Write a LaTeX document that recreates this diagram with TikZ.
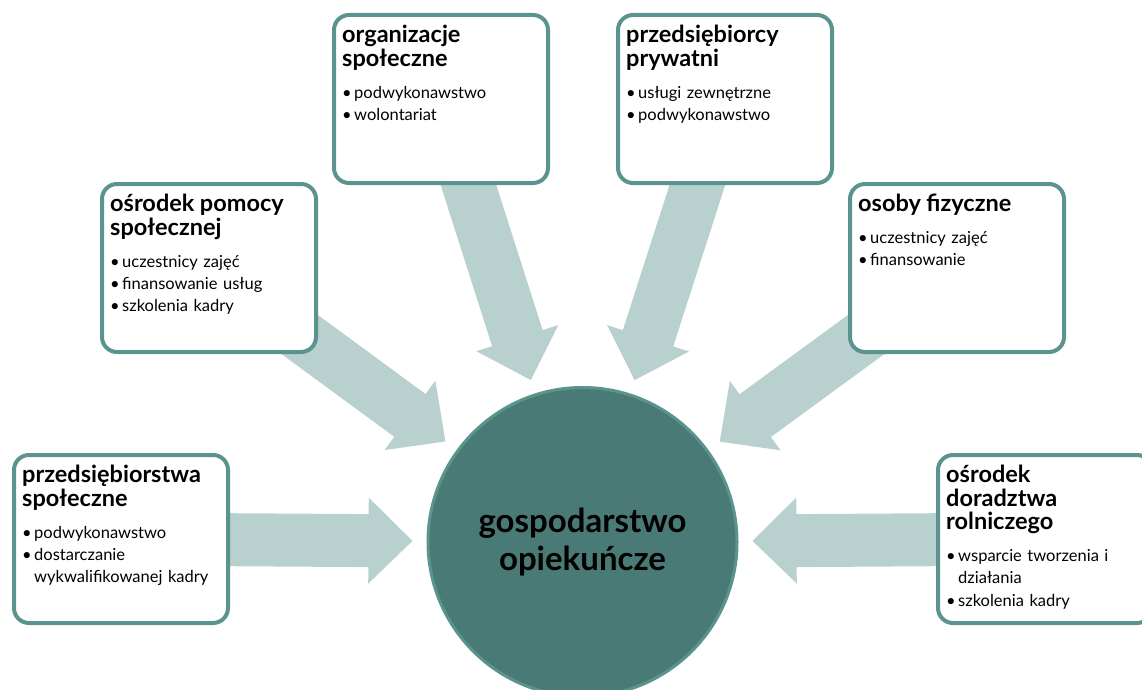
\documentclass[tikz,border=0pt]{standalone}
\usepackage{fontspec}
\setmainfont{Lato}
\usetikzlibrary{calc,backgrounds}
\definecolor{ramka}{HTML}{5B948E}
\definecolor{strzalka}{HTML}{B8D0CE}
\definecolor{srodek}{HTML}{4A7A76}
\newcommand\tytul{\fontsize{23.5}{23.5}\selectfont\bfseries}
\newcommand\pkt[1]{\par\noindent\makebox[12pt][l]{\textbullet}\parbox[t]{184pt}{\raggedright#1\strut}}
\newcommand\bigarrow[2]{\fill[strzalka] let \p1=($(#2)-(#1.center)$),\n1={atan2(\y1,\x1)},\n2={veclen(\x1,\y1)} in
	[shift={(#1.center)},rotate=\n1] (0pt,-26.5pt)--(\n2-44pt,-26.5pt)--(\n2-44pt,-43pt)--(\n2,0pt)
	--(\n2-44pt,43pt)--(\n2-44pt,26.5pt)--(0pt,26.5pt)--cycle;}
\tikzset{
	karta/.style={draw=ramka,line width=4pt,fill=white,rounded corners=15pt,minimum width=214pt,minimum height=168pt},
	opis/.style={anchor=north west,inner sep=0pt,text width=198pt,align=left,font=\fontsize{16.5}{22}\selectfont},
}
\begin{document}
\begin{tikzpicture}[x=1pt,y=-1pt]
\useasboundingbox (0,0) rectangle (1142,690);
\node[circle,draw=ramka,line width=3pt,fill=srodek,minimum size=309pt,align=center,
	font=\fontsize{33}{38}\selectfont\bfseries] (hub) at (582.5,542) {gospodarstwo\\opiekuńcze};
\node[karta] (b1) at (121,539) {};
\node[karta] (b2) at (209,268) {};
\node[karta] (b3) at (441,99) {};
\node[karta] (b4) at (725,99) {};
\node[karta] (b5) at (957,268) {};
\node[karta] (b6) at (1045,539) {};
\node[opis] (t1) at ([shift={(10pt,-12pt)}]b1.north west)
	{{\tytul przedsiębiorstwa\\społeczne\par}\vspace{10pt}
	\pkt{podwykonawstwo}\pkt{dostarczanie\\wykwalifikowanej kadry}};
\node[opis] (t2) at ([shift={(10pt,-12pt)}]b2.north west)
	{{\tytul ośrodek pomocy\\społecznej\par}\vspace{10pt}
	\pkt{uczestnicy zajęć}\pkt{finansowanie usług}\pkt{szkolenia kadry}};
\node[opis] (t3) at ([shift={(10pt,-12pt)}]b3.north west)
	{{\tytul organizacje\\społeczne\par}\vspace{10pt}
	\pkt{podwykonawstwo}\pkt{wolontariat}};
\node[opis] (t4) at ([shift={(10pt,-12pt)}]b4.north west)
	{{\tytul przedsiębiorcy\\prywatni\par}\vspace{10pt}
	\pkt{usługi zewnętrzne}\pkt{podwykonawstwo}};
\node[opis] (t5) at ([shift={(10pt,-12pt)}]b5.north west)
	{{\tytul osoby fizyczne\par}\vspace{10pt}
	\pkt{uczestnicy zajęć}\pkt{finansowanie}};
\node[opis] (t6) at ([shift={(10pt,-12pt)}]b6.north west)
	{{\tytul ośrodek\\doradztwa\\rolniczego\par}\vspace{10pt}
	\pkt{wsparcie tworzenia i\\działania}\pkt{szkolenia kadry}};
\foreach \i in {1,...,6}
	\coordinate (g\i) at ($(hub)!170pt!(b\i)$);
\begin{pgfonlayer}{background}
\foreach \i in {1,...,6}{\bigarrow{b\i}{g\i}}
\end{pgfonlayer}
\end{tikzpicture}
\end{document}
